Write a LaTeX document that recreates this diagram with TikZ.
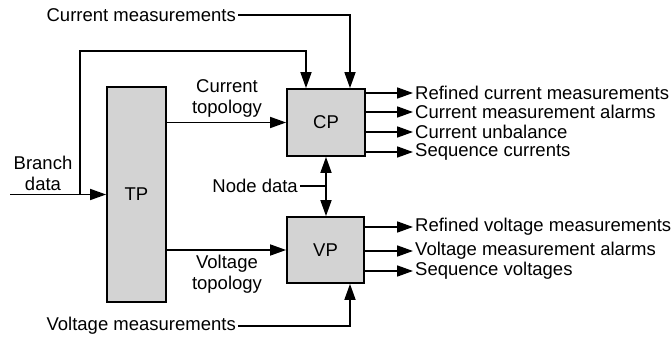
\documentclass[tikz,border=0pt]{standalone}
\usepackage{fontspec}
\setmainfont{Liberation Sans}
\usetikzlibrary{arrows.meta,calc}
\definecolor{boxgray}{RGB}{211,211,211}
\begin{document}
\begin{tikzpicture}[x=1pt,y=-1pt,
  every node/.style={font=\fontsize{18.5}{21}\selectfont},
  blk/.style={draw,line width=1.8pt,fill=boxgray,inner sep=0pt},
  ln/.style={line width=1.7pt},
  arr/.style={ln,-{Triangle[length=16pt,width=11pt]}},
  arrb/.style={ln,{Triangle[length=16pt,width=11pt]}-{Triangle[length=16pt,width=11pt]}},
  outlbl/.style={anchor=west,inner sep=2pt},
  lbl/.style={align=center,inner sep=0pt}]
\useasboundingbox (0,0) rectangle (671,347);
% blocks
\node[blk,minimum width=59pt,minimum height=215pt] (TP) at (136.5,194.5) {TP};
\node[blk,minimum width=78pt,minimum height=67pt] (CP) at (326,122.5) {CP};
\node[blk,minimum width=77pt,minimum height=66pt] (VP) at (325.5,250) {VP};
% inputs
\node[anchor=east,inner sep=2pt] (cm) at (238,15) {Current measurements};
\node[anchor=east,inner sep=2pt] (vm) at (238,326) {Voltage measurements};
\node[anchor=east,inner sep=2pt] (nd) at (300,186) {Node data};
\node[lbl] (bd) at (43,173) {Branch\\data};
\node[lbl] (ct) at (227,98) {Current\\topology};
\node[lbl] (vt) at (227,274) {Voltage\\topology};
\coordinate (bin) at (10,194.5);
\coordinate (bj) at (80,194.5);
\coordinate (c1) at (306,51);
\coordinate (c2) at (350,15);
\coordinate (v2) at (350,326);
\draw[arr] (bin) -- (TP.west);
\draw[arr] (bj) |- (c1) -- (c1 |- CP.north);
\draw[arr] (cm.east) -| (CP.north -| c2);
\draw[arr] (vm.east) -| (VP.south -| v2);
\draw[arr] (TP.east |- CP.west) -- (CP.west);
\draw[arr] (TP.east |- VP.west) -- (VP.west);
\draw[arrb] (CP.south) -- (CP.south |- VP.north);
\draw[ln] (nd.east) -- (nd.east -| CP.south);
% outputs
\node[outlbl] (o1) at (413,93) {Refined current measurements};
\node[outlbl] (o2) at (413,112) {Current measurement alarms};
\node[outlbl] (o3) at (413,132) {Current unbalance};
\node[outlbl] (o4) at (413,152) {Sequence currents};
\node[outlbl] (p1) at (413,227) {Refined voltage measurements};
\node[outlbl] (p2) at (413,251) {Voltage measurement alarms};
\node[outlbl] (p3) at (413,271) {Sequence voltages};
\foreach \o in {o1,o2,o3,o4}{\draw[arr] (CP.east |- \o.west) -- (\o.west);}
\foreach \o in {p1,p2,p3}{\draw[arr] (VP.east |- \o.west) -- (\o.west);}
\end{tikzpicture}
\end{document}
